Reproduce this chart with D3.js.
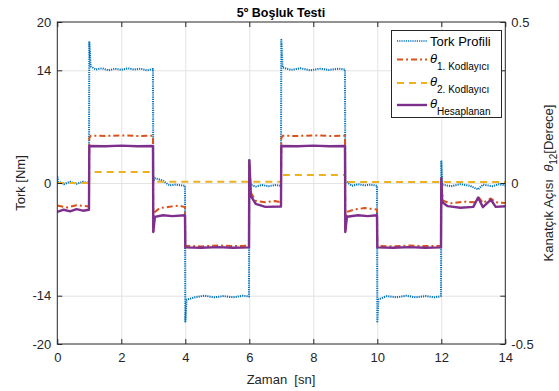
<!DOCTYPE html>
<html>
<head>
<meta charset="utf-8">
<script src="https://cdn.jsdelivr.net/npm/d3@7"></script>
<style>
body { margin: 0; background: #fff; }
svg { font-family: "Liberation Sans", Arial, sans-serif; }
.axis path { display: none; }
.axis line { stroke: #262626; }
.axis text { font-size: 13px; fill: #262626; }
.grid line { stroke: #e3e3e3; }
.grid path, .grid text { display: none; }
</style>
</head>
<body>
<script>
const width = 559;
const height = 391;
const plot = {x: 57.3, y: 22, w: 448, h: 322};

// axis ticks
const xTicks = [0, 2, 4, 6, 8, 10, 12, 14];
const torkTicks = [-20, -14, 0, 14, 20];
const aciTicks = [-0.5, 0, 0.5];

// Tork Profili [Nm] (sol eksen)
const torkProfili = [
    [0, 0.8], [0.03, 0.2], [0.2, -0.15], [0.4, 0.15], [0.6, -0.1], [0.8, 0.15], [0.99, 0],
    [1.0, 17.5], [1.04, 14.5], [1.2, 14.1], [1.4, 14.25], [1.6, 14.0], [1.8, 14.2], [2.0, 14.05],
    [2.2, 14.25], [2.4, 14.1], [2.6, 14.2], [2.8, 14.0], [2.99, 14.15],
    [3.0, 0.2], [3.05, 0.6], [3.3, 0.3], [3.5, -0.3], [3.7, -0.2], [3.99, -0.35],
    [4.0, -17.2], [4.04, -14.5], [4.3, -14.2], [4.6, -14.0], [4.9, -14.2], [5.2, -14.05],
    [5.5, -14.2], [5.8, -14.0], [5.99, -14.1],
    [6.0, 3.0], [6.03, -0.2], [6.2, -0.45], [6.4, -0.25], [6.6, -0.4], [6.8, -0.25], [6.99, -0.35],
    [7.0, 17.8], [7.04, 14.35], [7.3, 14.05], [7.6, 14.25], [7.9, 14.0], [8.2, 14.2], [8.5, 14.05],
    [8.8, 14.2], [8.99, 14.1],
    [9.0, 0.3], [9.2, -0.35], [9.4, -0.15], [9.6, -0.3], [9.8, -0.2], [9.99, -0.35],
    [10.0, -17.2], [10.04, -14.45], [10.3, -14.05], [10.6, -14.2], [10.9, -14.0], [11.2, -14.2],
    [11.5, -14.05], [11.8, -14.2], [11.99, -14.05],
    [12.0, 2.8], [12.03, -0.2], [12.3, -0.4], [12.6, -0.15], [12.9, -0.35], [13.15, -0.8],
    [13.3, -0.2], [13.6, -0.4], [13.8, -0.15], [14, -0.3]
];

// 1. Kodlayici [derece] (sag eksen)
const theta1 = [
    [0, -0.07], [0.3, -0.076], [0.6, -0.069], [0.99, -0.073],
    [1.0, 0.14], [1.05, 0.147], [1.5, 0.146], [2.0, 0.148], [2.5, 0.146], [2.99, 0.147],
    [3.0, -0.15], [3.05, -0.09], [3.2, -0.078], [3.5, -0.074], [3.8, -0.07], [3.99, -0.075],
    [4.0, -0.195], [4.5, -0.197], [5.0, -0.194], [5.5, -0.196], [5.99, -0.195],
    [6.0, 0.07], [6.05, -0.03], [6.2, -0.055], [6.5, -0.06], [6.8, -0.056], [6.99, -0.06],
    [7.0, 0.14], [7.05, 0.147], [7.5, 0.146], [8.0, 0.148], [8.5, 0.146], [8.99, 0.147],
    [9.0, -0.15], [9.05, -0.09], [9.3, -0.082], [9.6, -0.078], [9.99, -0.082],
    [10.0, -0.195], [10.5, -0.197], [11.0, -0.194], [11.5, -0.196], [11.99, -0.195],
    [12.0, 0.0], [12.05, -0.055], [12.3, -0.063], [12.7, -0.058], [13.1, -0.06], [13.15, -0.042],
    [13.3, -0.062], [13.55, -0.048], [13.7, -0.06], [14, -0.062]
];

// 2. Kodlayici [derece]
const theta2 = [
    [0, 0.0], [0.99, 0.0], [1.0, 0.034], [2.99, 0.034], [3.0, 0.004], [6.99, 0.004],
    [7.0, 0.025], [8.99, 0.025], [9.0, 0.003], [14, 0.003]
];

// Hesaplanan [derece]
const thetaHesap = [
    [0, -0.09], [0.2, -0.083], [0.4, -0.088], [0.6, -0.081], [0.8, -0.086], [0.99, -0.083],
    [1.0, 0.115], [1.5, 0.114], [2.0, 0.116], [2.5, 0.114], [2.99, 0.115],
    [3.0, -0.152], [3.05, -0.105], [3.3, -0.1], [3.6, -0.103], [3.99, -0.1],
    [4.0, -0.2], [4.5, -0.201], [5.0, -0.199], [5.5, -0.201], [5.99, -0.2],
    [6.0, 0.07], [6.05, -0.04], [6.2, -0.065], [6.5, -0.074], [6.99, -0.073],
    [7.0, 0.115], [7.5, 0.114], [8.0, 0.116], [8.5, 0.114], [8.99, 0.115],
    [9.0, -0.152], [9.05, -0.105], [9.4, -0.1], [9.7, -0.103], [9.99, -0.1],
    [10.0, -0.2], [10.5, -0.201], [11.0, -0.199], [11.5, -0.201], [11.99, -0.2],
    [12.0, 0.015], [12.03, -0.06], [12.2, -0.072], [12.6, -0.077], [13.0, -0.074], [13.15, -0.045],
    [13.3, -0.075], [13.55, -0.052], [13.7, -0.074], [14, -0.072]
];

const svg = d3.select("body")
    .append("svg")
    .attr("width", width)
    .attr("height", height);

const x = d3.scaleLinear().domain([0, 14]).range([plot.x, plot.x + plot.w]);
const yTork = d3.scaleLinear().domain([-20, 20]).range([plot.y + plot.h, plot.y]);
const yAci = d3.scaleLinear().domain([-0.5, 0.5]).range([plot.y + plot.h, plot.y]);
const plain = d => d.toString();

// grid
svg.append('g')
    .attr('class', 'grid')
    .attr('transform', `translate(0, ${plot.y + plot.h})`)
    .call(d3.axisBottom(x).tickValues(xTicks.slice(1, -1)).tickSize(-plot.h));
svg.append('g')
    .attr('class', 'grid')
    .attr('transform', `translate(${plot.x}, 0)`)
    .call(d3.axisLeft(yTork).tickValues([-14, 0, 14]).tickSize(-plot.w));

svg.append('clipPath')
    .attr('id', 'clip')
    .append('rect')
        .attr('x', plot.x).attr('y', plot.y)
        .attr('width', plot.w).attr('height', plot.h);

const lineTork = d3.line().x(d => x(d[0])).y(d => yTork(d[1]));
const lineAci = d3.line().x(d => x(d[0])).y(d => yAci(d[1]));

const series = [
    {data: torkProfili, line: lineTork, color: '#0072BD', w: 2, dash: '1.2,1', lw: 1.6},
    {data: theta1, line: lineAci, color: '#D95319', w: 2, dash: '6,3,2,3', lw: 2},
    {data: theta2, line: lineAci, color: '#EDB120', w: 2, dash: '7,5', lw: 2},
    {data: thetaHesap, line: lineAci, color: '#7E2F8E', w: 2.4, dash: null, lw: 2.4}
];

const lines = svg.append('g').attr('clip-path', 'url(#clip)');
series.forEach(s => {
    lines.append('path')
        .attr('d', s.line(s.data))
        .attr('fill', 'none')
        .attr('stroke', s.color)
        .attr('stroke-width', s.w)
        .attr('stroke-dasharray', s.dash)
        .attr('stroke-linejoin', 'round');
});

// axes
svg.append('g')
    .attr('class', 'axis')
    .attr('transform', `translate(0, ${plot.y + plot.h})`)
    .call(d3.axisBottom(x).tickValues(xTicks).tickSize(-5).tickPadding(9).tickFormat(plain));
svg.append('g')
    .attr('class', 'axis')
    .attr('transform', `translate(0, ${plot.y})`)
    .call(d3.axisTop(x).tickValues(xTicks).tickSize(-5).tickFormat(''));
svg.append('g')
    .attr('class', 'axis')
    .attr('transform', `translate(${plot.x}, 0)`)
    .call(d3.axisLeft(yTork).tickValues(torkTicks).tickSize(-5).tickPadding(6).tickFormat(plain));
svg.append('g')
    .attr('class', 'axis')
    .attr('transform', `translate(${plot.x + plot.w}, 0)`)
    .call(d3.axisRight(yAci).tickValues(aciTicks).tickSize(-5).tickPadding(6).tickFormat(plain));
svg.append('g')
    .attr('class', 'axis')
    .attr('transform', `translate(${plot.x + plot.w}, 0)`)
    .call(d3.axisRight(yAci).tickValues([-0.35, 0.35]).tickSize(-5).tickFormat(''));

svg.append('rect')
    .attr('x', plot.x).attr('y', plot.y)
    .attr('width', plot.w).attr('height', plot.h)
    .attr('fill', 'none')
    .attr('stroke', '#262626')
    .attr('stroke-width', 1);

// titles
svg.append('text')
    .attr('x', 281).attr('y', 17)
    .attr('text-anchor', 'middle')
    .attr('font-size', 12.5).attr('font-weight', 'bold')
    .attr('fill', '#000')
    .text('5º Boşluk Testi');

svg.append('text')
    .attr('x', 281).attr('y', 384)
    .attr('text-anchor', 'middle')
    .attr('font-size', 13).attr('fill', '#262626')
    .attr('xml:space', 'preserve')
    .text('Zaman  [sn]');

svg.append('text')
    .attr('transform', 'translate(25, 183) rotate(-90)')
    .attr('text-anchor', 'middle')
    .attr('font-size', 13).attr('fill', '#262626')
    .text('Tork [Nm]');

const rightLabel = svg.append('text')
    .attr('transform', 'translate(553, 183) rotate(-90)')
    .attr('text-anchor', 'middle')
    .attr('font-size', 13).attr('fill', '#262626')
    .attr('xml:space', 'preserve');
rightLabel.append('tspan').text('Kanatçık Açısı  ');
rightLabel.append('tspan').attr('font-style', 'italic').text('θ');
rightLabel.append('tspan').attr('font-size', 10).attr('dy', 4).text('12');
rightLabel.append('tspan').attr('dy', -4).text('[Derece]');

// legend
const legend = svg.append('g');
legend.append('rect')
    .attr('x', 391.5).attr('y', 30.5)
    .attr('width', 110).attr('height', 87)
    .attr('fill', '#fff')
    .attr('stroke', '#262626');

const legendRows = [
    {y: 41, main: 'Tork Profili', sub: null},
    {y: 59.5, main: 'θ', sub: '1. Kodlayıcı'},
    {y: 83, main: 'θ', sub: '2. Kodlayıcı'},
    {y: 105, main: 'θ', sub: 'Hesaplanan'}
];
legendRows.forEach((r, i) => {
    const s = series[i];
    legend.append('line')
        .attr('x1', 397).attr('x2', 427)
        .attr('y1', r.y).attr('y2', r.y)
        .attr('stroke', s.color)
        .attr('stroke-width', s.lw)
        .attr('stroke-dasharray', s.dash);
    const t = legend.append('text')
        .attr('x', 430).attr('y', r.sub ? r.y + 3 : r.y + 5)
        .attr('font-size', 13).attr('fill', '#000');
    if (r.sub) {
        t.append('tspan').attr('font-style', 'italic').text(r.main);
        t.append('tspan').attr('font-size', 10).attr('dy', 7).text(r.sub);
    } else {
        t.text(r.main);
    }
});
</script>
</body>
</html>
